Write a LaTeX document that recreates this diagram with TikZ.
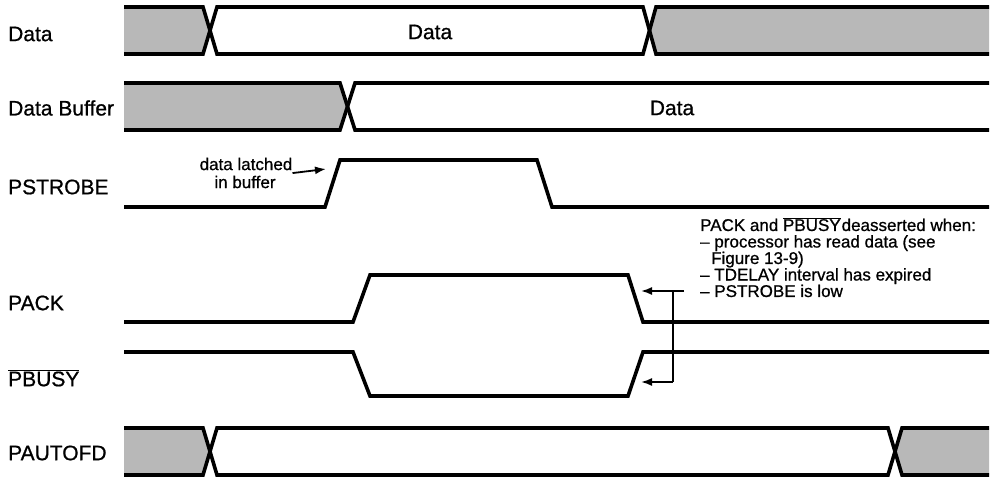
\documentclass[tikz,border=0pt]{standalone}
\usepackage{fontspec}
\setmainfont{Liberation Sans}[FakeBold=0.8, AutoFakeBold=0.8]
\usetikzlibrary{arrows.meta}
\newcommand\ovbar[1]{$\overline{\hbox{#1}}$}
\tikzset{
  wave/.style={line width=3.6pt, line cap=butt, line join=miter},
  hatch/.style={fill=black!28, draw=none},
  siglabel/.style={anchor=west, inner sep=0pt, font=\fontsize{21}{24}\selectfont\bfseries},
  buslabel/.style={inner sep=0pt, font=\fontsize{21}{24}\selectfont\bfseries},
  note/.style={anchor=base west, inner sep=0pt, font=\fontsize{17}{19}\selectfont\bfseries},
  pointer/.style={line width=1.8pt, -{Latex[length=11pt,width=8pt]}},
}
\begin{document}
\begin{tikzpicture}[x=1pt,y=-1pt]
\useasboundingbox (0,0) rectangle (990,478);

% ---------- labels ----------
\node[siglabel] (lData) at (8,34) {Data};
\node[siglabel] (lBuf) at (8,108) {Data Buffer};
\node[siglabel] (lStr) at (8,187) {PSTROBE};
\node[siglabel] (lAck) at (8,303) {PACK};
\node[siglabel] (lBusy) at (8,378) {\ovbar{PBUSY}};
\node[siglabel] (lAuto) at (8,453) {PAUTOFD};

% ---------- Data bus ----------
\fill[hatch] (124,7) -- (203,7) -- (210,30.5) -- (203,54) -- (124,54) -- cycle;
\fill[hatch] (649.5,30.5) -- (656,7) -- (989,7) -- (989,54) -- (656,54) -- cycle;
\draw[wave] (124,7) -- (203,7) -- (217,54) -- (643,54) -- (656,7) -- (989,7);
\draw[wave] (124,54) -- (203,54) -- (217,7) -- (643,7) -- (656,54) -- (989,54);
\node[buslabel] (dData) at (430,32) {Data};

% ---------- Data Buffer bus ----------
\fill[hatch] (124,83) -- (340,83) -- (347.5,106.5) -- (340,130) -- (124,130) -- cycle;
\draw[wave] (124,83) -- (340,83) -- (355,130) -- (989,130);
\draw[wave] (124,130) -- (340,130) -- (355,83) -- (989,83);
\node[buslabel] (dBuf) at (672,108) {Data};

% ---------- PSTROBE ----------
\draw[wave] (124,207) -- (325,207) -- (340,160) -- (537,160) -- (552,207) -- (989,207);
\coordinate (strRise) at (326,169);
\node[note, anchor=center] (latchA) at (246,164) {data latched};
\node[note, anchor=center] (latchB) at (245,182) {in buffer};
\draw[pointer] ([yshift=-3pt]latchA.base east) -- (strRise);

% ---------- PACK ----------
\draw[wave] (124,322) -- (353,322) -- (370,275) -- (628,275) -- (643,322) -- (989,322);

% ---------- PBUSY ----------
\draw[wave] (124,352) -- (353,352) -- (370,396) -- (628,396) -- (643,352) -- (989,352);

% ---------- PAUTOFD bus ----------
\fill[hatch] (124,428) -- (203,428) -- (210,451.5) -- (203,475) -- (124,475) -- cycle;
\fill[hatch] (895,451.5) -- (902,428) -- (989,428) -- (989,475) -- (902,475) -- cycle;
\draw[wave] (124,428) -- (203,428) -- (217,475) -- (888,475) -- (902,428) -- (989,428);
\draw[wave] (124,475) -- (203,475) -- (217,428) -- (888,428) -- (902,475) -- (989,475);

% ---------- deassert annotation ----------
\node[note] (n1) at (700,231) {PACK and \ovbar{PBUSY}\kern1pt deasserted when:};
\node[note] (n2) at (700,247.5) {– processor has read data (see};
\node[note] (n3) at (711,264) {Figure 13-9)};
\node[note] (n4) at (700,280.5) {– TDELAY interval has expired};
\node[note] (n5) at (700,297) {– PSTROBE is low};

\coordinate (tR) at (684,291);
\coordinate (tJ) at (673,291);
\coordinate (bJ) at (673,382);
\coordinate (ackFall) at (641,291);
\coordinate (busyRise) at (641,382);
\draw[line width=1.8pt] (tR) -- (tJ) -- (bJ);
\draw[pointer] (tJ) -- (ackFall);
\draw[pointer] (bJ) -- (busyRise);
\end{tikzpicture}
\end{document}
